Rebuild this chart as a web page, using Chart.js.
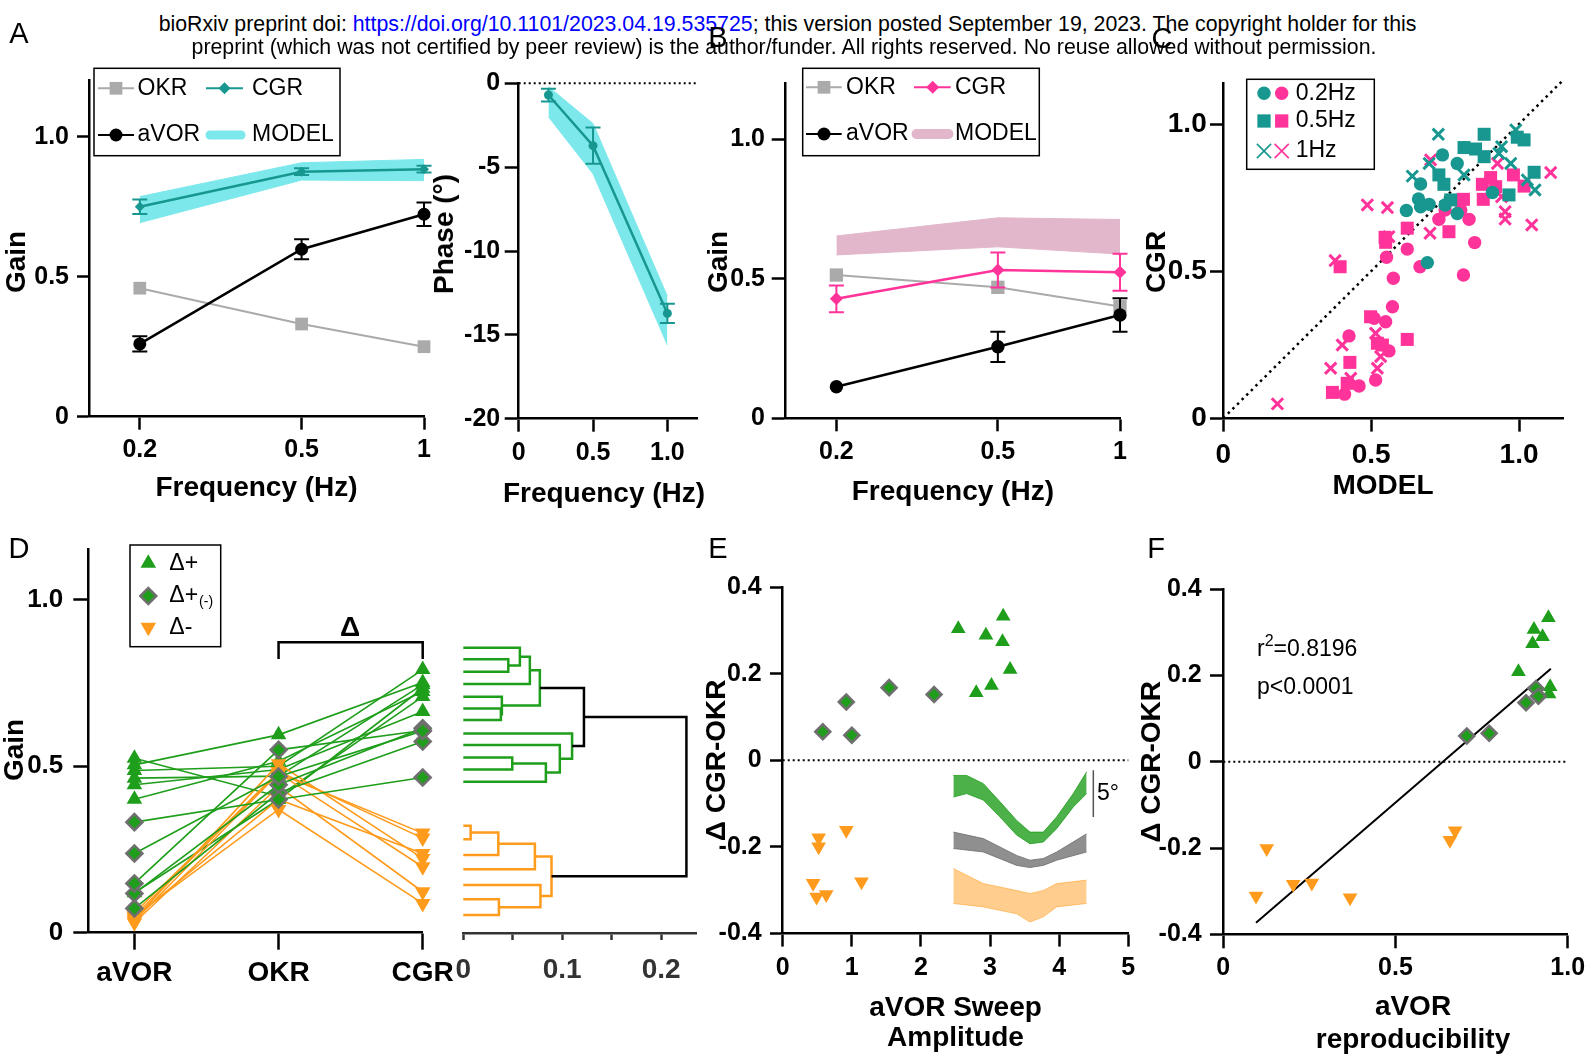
<!DOCTYPE html>
<html>
<head>
<meta charset="utf-8">
<title>Gain, phase and CGR-OKR panels</title>
<script src="https://cdn.jsdelivr.net/npm/chart.js@4.4.1/dist/chart.umd.min.js"></script>
<style>
  body { margin: 0; background: #fff; }
  #page { position: relative; width: 1588px; height: 1058px; overflow: hidden; background: #fff;
          font-family: "Liberation Sans", Arial, Helvetica, sans-serif; color: #000; }
  canvas { position: absolute; }
  .hdr { position: absolute; left: 0; text-align: center; font-size: 21.3px; line-height: 22px; white-space: nowrap; }
  .t { position: absolute; transform: translate(-50%, -50%); line-height: 1; white-space: nowrap; }
  .ttl { position: absolute; transform: translate(-50%, -50%); line-height: 1.2; white-space: nowrap; text-align: center;
         font-size: 28px; font-weight: bold; }
  .rot { position: absolute; transform: translate(-50%, -50%) rotate(-90deg); line-height: 1; white-space: nowrap;
         font-size: 28px; font-weight: bold; }
  .tl { position: absolute; transform: translate(0, -50%); line-height: 1; white-space: nowrap; font-size: 23px; }
  .sup { font-size: 16px; position: relative; top: -10px; }
</style>
</head>
<body>
<div id="page">
  <canvas id="cA"></canvas>
  <canvas id="cPhase"></canvas>
  <canvas id="cB"></canvas>
  <canvas id="cC"></canvas>
  <canvas id="cD"></canvas>
  <canvas id="cDendro"></canvas>
  <canvas id="cE"></canvas>
  <canvas id="cF"></canvas>

  <div class="hdr" style="top:13px;width:1575px">bioRxiv preprint doi: <span style="color:#0000ff">https://doi.org/10.1101/2023.04.19.535725</span>; this version posted September 19, 2023. The copyright holder for this</div>
  <div class="hdr" style="top:36px;width:1568px">preprint (which was not certified by peer review) is the author/funder. All rights reserved. No reuse allowed without permission.</div>

  <div class="t" style="left:19px;top:33px;font-size:29px">A</div>
  <div class="t" style="left:718px;top:37px;font-size:29px">B</div>
  <div class="t" style="left:1162px;top:38px;font-size:29px">C</div>
  <div class="t" style="left:19px;top:548px;font-size:29px">D</div>
  <div class="t" style="left:718px;top:548px;font-size:29px">E</div>
  <div class="t" style="left:1156px;top:548px;font-size:29px">F</div>

  <!-- axis titles that do not sit centred on their axes -->
  <div class="rot" style="left:16px;top:262px">Gain</div>
  <div class="rot" style="left:444px;top:234px">Phase (°)</div>
  <div class="ttl" style="left:604px;top:493px">Frequency (Hz)</div>
  <div class="rot" style="left:718px;top:262px">Gain</div>
  <div class="rot" style="left:1156px;top:262px">CGR</div>
  <div class="ttl" style="left:1383px;top:485px">MODEL</div>
  <div class="rot" style="left:14px;top:750px">Gain</div>
  <div class="ttl" style="left:1413px;top:1022px;line-height:33px">aVOR<br>reproducibility</div>

  <div class="t" style="left:350px;top:627px;font-size:28px;font-weight:bold">Δ</div>
  <div class="t" style="left:1108px;top:792px;font-size:23px">5°</div>
  <div class="tl" style="left:1257px;top:648px">r<span class="sup">2</span>=0.8196</div>
  <div class="tl" style="left:1257px;top:686px">p&lt;0.0001</div>
</div>

<script>
// ---- panel A : gain and phase vs frequency ----
const freqs = [0.2, 0.5, 1];
const gainOKR_A = [0.459, 0.331, 0.25];
const gainCGR_A = [0.75, 0.875, 0.884];
const errCGR_A = [0.026, 0.012, 0.012];
const gainAVOR_A = [0.26, 0.598, 0.723];
const errAVOR_A = [0.027, 0.036, 0.042];
const modelHiA = [0.786, 0.907, 0.919];
const modelLoA = [0.693, 0.845, 0.843];

const phaseCGR = [-0.7, -3.72, -13.72];
const errPhase = [0.38, 1.08, 0.58];
const phaseHi = [-0.2, -2.4, -12.7];
const phaseLo = [-2.0, -5.4, -15.6];
const phaseZeroX = [0, 1.2];

// ---- panel B ----
const gainOKR_B = [0.513, 0.469, 0.40];
const gainCGR_B = [0.428, 0.531, 0.523];
const errCGR_B = [0.048, 0.063, 0.066];
const gainAVOR_B = [0.113, 0.256, 0.37];
const errAVOR_B = [0, 0.054, 0.06];
const modelHiB = [0.653, 0.718, 0.712];
const modelLoB = [0.585, 0.614, 0.588];

// ---- panel C : CGR vs MODEL, [model, cgr] ----
const c02Teal = [[0.741,0.895],[0.791,0.866],[0.667,0.796],[0.66,0.745],[0.667,0.719],[0.696,0.727],[0.619,0.706],[0.75,0.725],[0.791,0.696],[0.91,0.767],[0.69,0.529]];
const c05Teal = [[0.882,0.965],[0.814,0.92],[0.853,0.915],[0.882,0.889],[0.994,0.955],[1.017,0.946],[0.729,0.827],[0.746,0.795],[0.769,0.742],[0.966,0.759],[1.051,0.836]];
const c1Teal = [[0.727,0.965],[0.696,0.866],[0.639,0.823],[0.814,0.827],[0.941,0.923],[0.932,0.9],[0.989,0.98],[0.972,0.866],[1.028,0.81],[1.054,0.776]];
const c02Pink = [[0.75,0.708],[0.729,0.676],[0.803,0.708],[0.831,0.676],[0.85,0.597],[0.812,0.487],[0.665,0.515],[0.622,0.575],[0.552,0.547],[0.575,0.476],[0.572,0.379],[0.549,0.328],[0.51,0.34],[0.425,0.28],[0.56,0.229],[0.515,0.13],[0.459,0.11],[0.41,0.082]];
const c05Pink = [[0.904,0.818],[0.876,0.795],[0.921,0.787],[0.981,0.827],[1.017,0.789],[0.812,0.744],[0.879,0.744],[0.763,0.634],[0.622,0.646],[0.547,0.615],[0.549,0.598],[0.395,0.515],[0.498,0.345],[0.622,0.268],[0.521,0.255],[0.538,0.249],[0.428,0.19],[0.419,0.119],[0.369,0.088]];
const c1Pink = [[0.487,0.725],[0.555,0.716],[0.701,0.878],[0.927,0.866],[1.107,0.835],[0.941,0.753],[0.953,0.702],[0.953,0.677],[1.043,0.657],[0.699,0.629],[0.56,0.617],[0.378,0.536],[0.515,0.289],[0.402,0.249],[0.532,0.21],[0.521,0.17],[0.363,0.17],[0.431,0.136],[0.183,0.049]];
const unityX = [0, 1.145];

// ---- panel D : per fish gains ----
const dCats = ['aVOR', 'OKR', 'CGR'];
const upAVOR = [0.524, 0.504, 0.487, 0.464, 0.444, 0.401, 0.12];
const upOKR  = [0.409, 0.594, 0.50, 0.47, 0.49, 0.515, 0.40];
const upCGR  = [0.709, 0.751, 0.79, 0.745, 0.664, 0.724, 0.734];
const midAVOR = [0.332, 0.238, 0.148, 0.118, 0.073];
const midOKR  = [0.40, 0.469, 0.549, 0.444, 0.42];
const midCGR  = [0.466, 0.606, 0.607, 0.614, 0.574];
const downAVOR = [0.06, 0.05, 0.045, 0.04, 0.035, 0.03, 0.05];
const downOKR  = [0.478, 0.484, 0.40, 0.507, 0.479, 0.439, 0.37];
const downCGR  = [0.299, 0.284, 0.238, 0.223, 0.198, 0.123, 0.088];
const bracketCat = [1, 1, 2, 2];
const bracketY = [0.822, 0.872, 0.872, 0.822];

// ---- dendrogram ----
const leafRows = [0, 0.95, 1.97, 2.98, 4.02, 4.97, 5.93, 7.02, 7.98, 8.99, 9.97, 10.98,
                  14.59, 15.7, 16.99, 18.16, 19.44, 20.62, 21.91];
const merges = [[1,2,0.0455],[0,19,0.0572],[20,3,0.0673],[5,6,0.038],[4,22,0.039],[21,23,0.0774],
                [9,10,0.0495],[25,11,0.0835],[8,26,0.0976],[7,27,0.110],[24,28,0.122],
                [12,13,0.0074],[30,14,0.0354],[31,15,0.0724],[17,18,0.036],[16,33,0.078],[32,34,0.0892],
                [29,35,0.2256]];
const mergeGroup = ['g','g','g','g','g','g','g','g','g','g','k','o','o','o','o','o','o','k'];
const dendroTicks = [0, 0.05, 0.1, 0.15, 0.2];
const dendroLabels = ['0', '', '0.1', '', '0.2'];

// ---- panel E ----
const eUpX = [2.54, 2.94, 3.19, 3.18, 3.29, 3.02, 2.80];
const eUpY = [0.304, 0.289, 0.333, 0.274, 0.21, 0.173, 0.156];
const eMidX = [0.58, 0.92, 1.0, 1.54, 2.19];
const eMidY = [0.066, 0.135, 0.058, 0.168, 0.152];
const eDownX = [0.52, 0.52, 0.92, 0.44, 0.49, 0.63, 1.14];
const eDownY = [-0.179, -0.2, -0.162, -0.284, -0.316, -0.31, -0.281];
const traceX = [2.469, 2.662, 2.903, 3.144, 3.385, 3.578, 3.771, 3.963, 4.204, 4.397];
const greenTop = [-0.035, -0.035, -0.054, -0.096, -0.139, -0.166, -0.166, -0.131, -0.077, -0.027];
const greenBot = [-0.085, -0.077, -0.092, -0.131, -0.173, -0.193, -0.189, -0.158, -0.108, -0.077];
const grayX = [2.469, 2.903, 3.385, 3.578, 3.771, 3.963, 4.397];
const grayTop = [-0.166, -0.181, -0.22, -0.231, -0.227, -0.212, -0.17];
const grayBot = [-0.204, -0.212, -0.243, -0.248, -0.243, -0.231, -0.212];
const orangeX = [2.469, 2.903, 3.385, 3.578, 3.771, 3.963, 4.397];
const orangeTop = [-0.25, -0.285, -0.301, -0.308, -0.301, -0.285, -0.277];
const orangeBot = [-0.331, -0.339, -0.355, -0.374, -0.362, -0.339, -0.331];
const scaleBarX = [4.494, 4.494];
const scaleBarY = [-0.023, -0.131];
const eZeroX = [0, 5];

// ---- panel F ----
const fUpX = [0.944, 0.902, 0.927, 0.898, 0.857, 0.949, 0.946];
const fUpY = [0.334, 0.307, 0.29, 0.274, 0.209, 0.174, 0.157];
const fMidX = [0.707, 0.772, 0.879, 0.908, 0.915];
const fMidY = [0.06, 0.066, 0.137, 0.17, 0.152];
const fDownX = [0.126, 0.095, 0.203, 0.257, 0.368, 0.658, 0.673];
const fDownY = [-0.201, -0.311, -0.284, -0.281, -0.315, -0.182, -0.16];
const fitX = [0.095, 0.951];
const fitY = [-0.373, 0.216];
const fZeroX = [0, 1];

// colours
const FONT = '"Liberation Sans", Arial, Helvetica, sans-serif';
const TEAL = '#17978f';
const CYAN = '#7de8eb';
const GRAY = '#aaaaaa';
const PINK = '#ff3399';
const PINKBAND = '#e2b7cb';
const GREEN = '#1e9e1a';
const ORANGE = '#ff9b1c';
const DGRAY = '#6f6f6f';

Chart.defaults.font.family = FONT;

function pts(xs, ys) { return xs.map((x, i) => ({ x: x, y: ys[i] })); }
function pairs(arr) { return arr.map(p => ({ x: p[0], y: p[1] })); }
const fmt1 = v => v === 0 ? '0' : v.toFixed(1);

function line(data, color, width, extra) {
  return Object.assign({ data: data, showLine: true, borderColor: color, borderWidth: width,
    pointRadius: 0, clip: false, order: 1 }, extra || {});
}
function markers(data, ps, r, fill, border, bw, rot, order) {
  return { data: data, showLine: false, pointStyle: ps, pointRadius: r, pointRotation: rot || 0,
    pointBackgroundColor: fill, pointBorderColor: border || fill, pointBorderWidth: bw || 0,
    borderColor: border || fill, backgroundColor: fill, clip: false, order: order || 1 };
}
function band(hi, lo, color, order) {
  return [
    line(hi, color, 1, { fill: '+1', backgroundColor: color, order: order }),
    line(lo, color, 1, { order: order })
  ];
}

// error bars from dataset.errors
const errorBars = {
  id: 'errorBars',
  afterDatasetsDraw(chart) {
    const ctx = chart.ctx, xs = chart.scales.x, ys = chart.scales.y;
    chart.data.datasets.forEach(ds => {
      if (!ds.errors) return;
      ctx.save();
      ctx.strokeStyle = ds.borderColor;
      ctx.lineWidth = 2;
      ds.data.forEach((p, k) => {
        const e = ds.errors[k];
        if (!e) return;
        const x = xs.getPixelForValue(p.x);
        const y1 = ys.getPixelForValue(p.y + e), y2 = ys.getPixelForValue(p.y - e);
        ctx.beginPath();
        ctx.moveTo(x, y1); ctx.lineTo(x, y2);
        ctx.moveTo(x - 7.5, y1); ctx.lineTo(x + 7.5, y1);
        ctx.moveTo(x - 7.5, y2); ctx.lineTo(x + 7.5, y2);
        ctx.stroke();
      });
      ctx.restore();
    });
  }
};

// boxed legends, page coordinates
const legends = {};
const boxLegend = {
  id: 'boxLegend',
  afterDraw(chart) {
    const lg = legends[chart.canvas.id];
    if (!lg) return;
    const ctx = chart.ctx;
    ctx.save();
    ctx.translate(-chart.canvas.offsetLeft, -chart.canvas.offsetTop);
    const b = lg.box;
    ctx.lineWidth = 1.5;
    ctx.strokeStyle = '#000';
    ctx.strokeRect(b[0], b[1], b[2] - b[0], b[3] - b[1]);
    lg.items.forEach(it => {
      if (it.line) {
        ctx.strokeStyle = it.lc; ctx.lineWidth = 2; ctx.lineCap = 'butt';
        ctx.beginPath(); ctx.moveTo(it.line[0], it.y); ctx.lineTo(it.line[1], it.y); ctx.stroke();
      }
      if (it.band) {
        ctx.strokeStyle = it.lc; ctx.lineWidth = it.bandW; ctx.lineCap = 'round';
        ctx.beginPath(); ctx.moveTo(it.band[0], it.y); ctx.lineTo(it.band[1], it.y); ctx.stroke();
        ctx.lineCap = 'butt';
      }
      (it.syms || []).forEach(s => {
        ctx.fillStyle = s.fc || 'rgba(0,0,0,0)';
        ctx.strokeStyle = s.bc || s.fc;
        if (s.bw) ctx.lineWidth = s.bw;
        Chart.helpers.drawPoint(ctx, { pointStyle: s.ps, radius: s.r, borderWidth: s.bw || 0, rotation: s.rot || 0 }, s.x, it.y);
      });
      ctx.fillStyle = '#000'; ctx.textAlign = 'left'; ctx.textBaseline = 'middle';
      ctx.font = lg.size + 'px ' + FONT;
      ctx.fillText(it.t, it.tx, it.y);
      if (it.sub) {
        const w = ctx.measureText(it.t).width;
        ctx.font = '14px ' + FONT;
        ctx.fillText(it.sub, it.tx + w + 1, it.y + 6);
      }
    });
    ctx.restore();
  }
};

function axis(o) {
  const col = o.color || '#000';
  const a = {
    type: o.type || 'linear',
    min: o.min, max: o.max,
    reverse: !!o.reverse,
    display: o.display !== false,
    border: { display: true, color: col, width: 2.5 },
    grid: { display: true, drawOnChartArea: false, drawTicks: true, tickLength: o.tl || 13, tickWidth: 2.5, tickColor: col },
    ticks: { color: col, padding: o.pad || 0, maxRotation: 0, minRotation: 0, autoSkip: false, includeBounds: false,
             font: { family: FONT, size: o.size || 25, weight: 'bold', lineHeight: 1.2 } },
    title: { display: !!o.title, text: o.title || '', color: '#000', padding: 0,
             font: { family: FONT, size: 28, weight: 'bold', lineHeight: o.lh || 1.2 } }
  };
  if (o.fmt) a.ticks.callback = o.fmt;
  if (o.at) a.afterBuildTicks = s => { s.ticks = o.at.map(v => ({ value: v })); };
  return a;
}

function zeroPad(s) { s.paddingLeft = 0; s.paddingRight = 0; s.paddingTop = 0; s.paddingBottom = 0; }

// box: canvas in page px, area: wanted chart area in page px
function makeChart(id, box, area, datasets, xAxis, yAxis) {
  const cv = document.getElementById(id);
  cv.width = box.w; cv.height = box.h;
  cv.style.left = box.x + 'px'; cv.style.top = box.y + 'px';
  cv.style.width = box.w + 'px'; cv.style.height = box.h + 'px';
  xAxis.position = 'bottom';
  yAxis.position = 'left';
  const yOn = yAxis.display !== false;
  xAxis.afterFit = s => { s.height = box.y + box.h - area.b; zeroPad(s); };
  if (yOn) yAxis.afterFit = s => { s.width = area.l - box.x; zeroPad(s); };
  return new Chart(cv, {
    type: 'line',
    data: { datasets: datasets },
    options: {
      responsive: false, maintainAspectRatio: false, animation: false, devicePixelRatio: 1, events: [],
      layout: { autoPadding: false,
        padding: { left: yOn ? 0 : area.l - box.x, top: area.t - box.y, right: box.x + box.w - area.r, bottom: 0 } },
      scales: { x: xAxis, y: yAxis },
      plugins: { legend: { display: false }, tooltip: { enabled: false } }
    },
    plugins: [errorBars, boxLegend]
  });
}

// ---------------- A : gain ----------------
legends.cA = { box: [94, 68.3, 340, 155.7], size: 23, items: [
  { t: 'OKR', tx: 137.5, y: 88.3, line: [98, 134], lc: GRAY, syms: [{ x: 116, ps: 'rect', r: 9, fc: GRAY }] },
  { t: 'CGR', tx: 252, y: 88.3, line: [206, 243], lc: TEAL, syms: [{ x: 224.5, ps: 'rectRot', r: 6, fc: TEAL }] },
  { t: 'aVOR', tx: 137.5, y: 135, line: [98, 134], lc: '#000', syms: [{ x: 116, ps: 'circle', r: 6.5, fc: '#000' }] },
  { t: 'MODEL', tx: 252, y: 135, band: [210, 241], bandW: 9, lc: CYAN }
]};
makeChart('cA', { x: 0, y: 50, w: 440, h: 455 }, { l: 89, t: 80.7, r: 424, b: 416.7 }, [
  Object.assign(line(pts(freqs, gainCGR_A), TEAL, 2.5), { pointStyle: 'rectRot', pointRadius: 5,
    pointBackgroundColor: TEAL, pointBorderColor: TEAL, pointBorderWidth: 0, errors: errCGR_A }),
  Object.assign(line(pts(freqs, gainAVOR_A), '#000', 2.5), { pointStyle: 'circle', pointRadius: 6.5,
    pointBackgroundColor: '#000', pointBorderColor: '#000', pointBorderWidth: 0, errors: errAVOR_A }),
  Object.assign(line(pts(freqs, gainOKR_A), GRAY, 2), { pointStyle: 'rect', pointRadius: 9,
    pointBackgroundColor: GRAY, pointBorderColor: GRAY, pointBorderWidth: 0, order: 2 }),
  ...band(pts(freqs, modelHiA), pts(freqs, modelLoA), CYAN, 5)
], axis({ type: 'logarithmic', min: 0.15, max: 1, at: freqs, fmt: v => String(v), tl: 13, pad: 5.3, title: 'Frequency (Hz)' }),
   axis({ min: 0, max: 1.2, at: [0, 0.5, 1], fmt: fmt1, tl: 12, pad: 8 }));

// ---------------- A : phase ----------------
makeChart('cPhase', { x: 427, y: 55, w: 275, h: 455 }, { l: 518.7, t: 83.3, r: 697.1, b: 418.7 }, [
  Object.assign(line(pts(freqs, phaseCGR), TEAL, 2.5), { pointStyle: 'circle', pointRadius: 4.5,
    pointBackgroundColor: TEAL, pointBorderColor: TEAL, pointBorderWidth: 0, errors: errPhase }),
  line(pts(phaseZeroX, [0, 0]), '#000', 2, { borderDash: [2, 3], order: 2 }),
  ...band(pts(freqs, phaseHi), pts(freqs, phaseLo), CYAN, 5)
], axis({ min: 0, max: 1.2, at: [0, 0.5, 1], fmt: fmt1, tl: 13, pad: 6.3 }),
   axis({ min: -20, max: 0, at: [-20, -15, -10, -5, 0], fmt: v => String(v), tl: 14, pad: 4.5 }));

// ---------------- B ----------------
legends.cB = { box: [802.7, 68.3, 1039.3, 155.7], size: 23, items: [
  { t: 'OKR', tx: 846, y: 87.3, line: [806, 841.7], lc: GRAY, syms: [{ x: 824, ps: 'rect', r: 9, fc: GRAY }] },
  { t: 'CGR', tx: 955, y: 87.3, line: [914, 950.7], lc: PINK, syms: [{ x: 932.7, ps: 'rectRot', r: 6.5, fc: PINK }] },
  { t: 'aVOR', tx: 846, y: 134, line: [806, 841.7], lc: '#000', syms: [{ x: 824, ps: 'circle', r: 6.5, fc: '#000' }] },
  { t: 'MODEL', tx: 955, y: 134, band: [916.5, 948.5], bandW: 10, lc: PINKBAND }
]};
makeChart('cB', { x: 702, y: 55, w: 433, h: 454 }, { l: 785.7, t: 83.2, r: 1120, b: 418.3 }, [
  Object.assign(line(pts(freqs, gainCGR_B), PINK, 2.5), { pointStyle: 'rectRot', pointRadius: 6.5,
    pointBackgroundColor: PINK, pointBorderColor: PINK, pointBorderWidth: 0, errors: errCGR_B }),
  Object.assign(line(pts(freqs, gainAVOR_B), '#000', 2.5), { pointStyle: 'circle', pointRadius: 6.7,
    pointBackgroundColor: '#000', pointBorderColor: '#000', pointBorderWidth: 0, errors: errAVOR_B }),
  Object.assign(line(pts(freqs, gainOKR_B), GRAY, 2), { pointStyle: 'rect', pointRadius: 9.4,
    pointBackgroundColor: GRAY, pointBorderColor: GRAY, pointBorderWidth: 0, order: 2 }),
  ...band(pts(freqs, modelHiB), pts(freqs, modelLoB), PINKBAND, 5)
], axis({ type: 'logarithmic', min: 0.15, max: 1, at: freqs, fmt: v => String(v), tl: 13, pad: 5.4, title: 'Frequency (Hz)' }),
   axis({ min: 0, max: 1.2, at: [0, 0.5, 1], fmt: fmt1, tl: 14, pad: 6.7 }));

// ---------------- C ----------------
legends.cC = { box: [1246.7, 79.3, 1374.3, 169.3], size: 23, items: [
  { t: '0.2Hz', tx: 1295.7, y: 93.3, syms: [{ x: 1264, ps: 'circle', r: 6.7, fc: TEAL }, { x: 1281.7, ps: 'circle', r: 6.7, fc: PINK }] },
  { t: '0.5Hz', tx: 1295.7, y: 121, syms: [{ x: 1264, ps: 'rect', r: 9.4, fc: TEAL }, { x: 1281.7, ps: 'rect', r: 9.4, fc: PINK }] },
  { t: '1Hz', tx: 1295.7, y: 151, syms: [{ x: 1264, ps: 'crossRot', r: 10, bc: TEAL, bw: 1.6 }, { x: 1281.7, ps: 'crossRot', r: 10, bc: PINK, bw: 1.6 }] }
]};
makeChart('cC', { x: 1138, y: 60, w: 450, h: 442 }, { l: 1223.3, t: 82.8, r: 1563.4, b: 418.3 }, [
  markers(pairs(c02Teal), 'circle', 6.7, TEAL, TEAL, 0, 0, 1),
  markers(pairs(c05Teal), 'rect', 9.2, TEAL, TEAL, 0, 0, 1),
  markers(pairs(c1Teal), 'crossRot', 8, TEAL, TEAL, 3, 0, 1),
  markers(pairs(c02Pink), 'circle', 6.7, PINK, PINK, 0, 0, 2),
  markers(pairs(c05Pink), 'rect', 9.2, PINK, PINK, 0, 0, 2),
  markers(pairs(c1Pink), 'crossRot', 8, PINK, PINK, 3, 0, 2),
  line(pts(unityX, unityX), '#000', 2.5, { borderDash: [2.5, 4], order: 3 })
], axis({ min: 0, max: 1.15, at: [0, 0.5, 1], fmt: fmt1, tl: 13.3, pad: 6.6, size: 28 }),
   axis({ min: 0, max: 1.14, at: [0, 0.5, 1], fmt: fmt1, tl: 13.3, pad: 3.3, size: 28 }));

// ---------------- D ----------------
const catIdx = dCats.map((c, i) => i);
function subjectLines(av, ok, cg, ps, r, fill, border, bw, rot, lineColor, order) {
  return av.map((a, i) => Object.assign(line(pts(catIdx, [a, ok[i], cg[i]]), lineColor, 1.6, { order: order }), {
    pointStyle: ps, pointRadius: r, pointRotation: rot, pointBackgroundColor: fill,
    pointBorderColor: border, pointBorderWidth: bw }));
}
legends.cD = { box: [130, 545, 220.7, 646.7], size: 23, items: [
  { t: 'Δ+', tx: 169.3, y: 563.3, syms: [{ x: 148.3, ps: 'triangle', r: 9, fc: GREEN }] },
  { t: 'Δ+', sub: '(-)', tx: 169.3, y: 596, syms: [{ x: 148.3, ps: 'rectRot', r: 8, fc: GREEN, bc: DGRAY, bw: 2.5 }] },
  { t: 'Δ-', tx: 169.3, y: 627.3, syms: [{ x: 148.3, ps: 'triangle', r: 9, rot: 180, fc: ORANGE }] }
]};
makeChart('cD', { x: 0, y: 530, w: 462, h: 470 }, { l: 88.3, t: 549.7, r: 422.7, b: 932.7 }, [
  line(pts(bracketCat, bracketY), '#000', 2.5, { order: 0 }),
  ...subjectLines(midAVOR, midOKR, midCGR, 'rectRot', 8, GREEN, DGRAY, 2.5, 0, GREEN, 1),
  ...subjectLines(downAVOR, downOKR, downCGR, 'triangle', 9, ORANGE, ORANGE, 0, 180, ORANGE, 2),
  ...subjectLines(upAVOR, upOKR, upCGR, 'triangle', 9, GREEN, GREEN, 0, 0, GREEN, 3)
], axis({ min: -0.32, max: 2, at: catIdx, fmt: v => dCats[v], tl: 17, pad: 6.8, size: 28 }),
   axis({ min: 0, max: 1.15, at: [0, 0.5, 1], fmt: fmt1, tl: 15, pad: 10, size: 26 }));

// ---------------- dendrogram ----------------
const nodeRow = leafRows.slice();
const nodeH = leafRows.map(() => 0);
const groupColor = { g: GREEN, o: ORANGE, k: '#000' };
const dendroSets = merges.map((m, k) => {
  const a = m[0], b = m[1], h = m[2];
  const seg = pts([nodeH[a], h, h, nodeH[b]], [nodeRow[a], nodeRow[a], nodeRow[b], nodeRow[b]]);
  nodeRow.push((nodeRow[a] + nodeRow[b]) / 2);
  nodeH.push(h);
  return line(seg, groupColor[mergeGroup[k]], 2.5, { order: mergeGroup[k] === 'k' ? 0 : 1 });
});
makeChart('cDendro', { x: 440, y: 620, w: 262, h: 380 }, { l: 463.3, t: 640.4, r: 696.7, b: 933.3 }, dendroSets,
  axis({ min: 0, max: 0.236, at: dendroTicks, fmt: (v, i) => dendroLabels[i], tl: 6.7, pad: 13.2, size: 28, color: '#333' }),
  axis({ display: false, min: -0.6, max: 23.4, reverse: true }));

// ---------------- E ----------------
makeChart('cE', { x: 700, y: 560, w: 440, h: 493 }, { l: 782.7, t: 587.3, r: 1128.3, b: 933.3 }, [
  markers(pts(eMidX, eMidY), 'rectRot', 7.5, GREEN, DGRAY, 2.5, 0, 1),
  markers(pts(eUpX, eUpY), 'triangle', 8.5, GREEN, GREEN, 0, 0, 1),
  markers(pts(eDownX, eDownY), 'triangle', 8.5, ORANGE, ORANGE, 0, 180, 1),
  line(pts(eZeroX, [0, 0]), '#000', 2, { borderDash: [2, 3], order: 2 }),
  line(pts(scaleBarX, scaleBarY), '#555', 1.5, { order: 2 }),
  ...band(pts(traceX, greenTop), pts(traceX, greenBot), 'rgba(30,158,26,0.8)', 4),
  ...band(pts(grayX, grayTop), pts(grayX, grayBot), 'rgba(105,105,105,0.75)', 4),
  ...band(pts(orangeX, orangeTop), pts(orangeX, orangeBot), 'rgba(255,155,28,0.5)', 4)
], axis({ min: 0, max: 5, at: [0, 1, 2, 3, 4, 5], fmt: v => String(v), tl: 13.3, pad: 6.7, title: ['aVOR Sweep', 'Amplitude'], lh: 1.07 }),
   axis({ min: -0.4, max: 0.4, at: [-0.4, -0.2, 0, 0.2, 0.4], fmt: fmt1, tl: 12.7, pad: 8.3, title: 'Δ CGR-OKR' }));

// ---------------- F ----------------
makeChart('cF', { x: 1135, y: 560, w: 453, h: 495 }, { l: 1223.3, t: 589.3, r: 1567.7, b: 934.3 }, [
  markers(pts(fMidX, fMidY), 'rectRot', 7.5, GREEN, DGRAY, 2.5, 0, 1),
  markers(pts(fUpX, fUpY), 'triangle', 8.5, GREEN, GREEN, 0, 0, 1),
  markers(pts(fDownX, fDownY), 'triangle', 8.5, ORANGE, ORANGE, 0, 180, 1),
  line(pts(fitX, fitY), '#000', 2, { order: 2 }),
  line(pts(fZeroX, [0, 0]), '#000', 2, { borderDash: [2, 3], order: 3 })
], axis({ min: 0, max: 1, at: [0, 0.5, 1], fmt: fmt1, tl: 14, pad: 5 }),
   axis({ min: -0.4, max: 0.4, at: [-0.4, -0.2, 0, 0.2, 0.4], fmt: fmt1, tl: 13.3, pad: 8.3, title: 'Δ CGR-OKR' }));
</script>
</body>
</html>
